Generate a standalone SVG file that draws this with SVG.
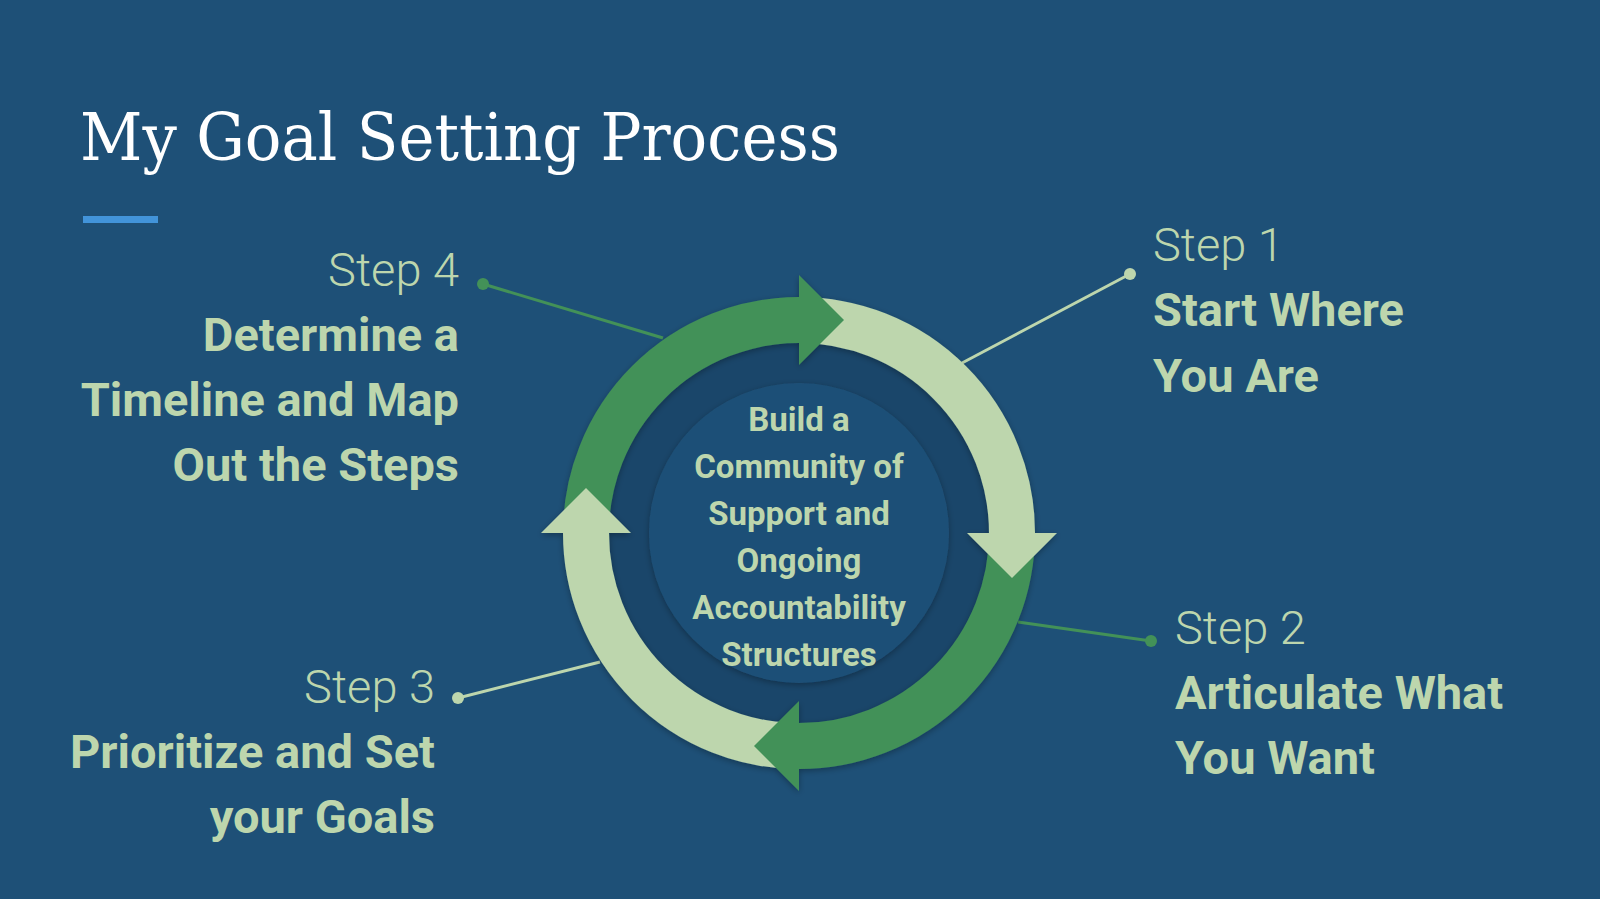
<svg xmlns="http://www.w3.org/2000/svg" width="1600" height="899" viewBox="0 0 1600 899">
  <defs>
    <filter id="shadow" x="-20%" y="-20%" width="140%" height="140%">
      <feDropShadow dx="0" dy="2" stdDeviation="3" flood-color="#000" flood-opacity="0.3"/>
    </filter>
    <style>
      .step { font-family: Roboto, "Liberation Sans", sans-serif; font-weight: 300; font-size: 47px; fill: #bdd6ad; }
      .head { font-family: Roboto, "Liberation Sans", sans-serif; font-weight: 700; font-size: 47px; fill: #bdd6ad; }
      .ctr { font-family: Roboto, "Liberation Sans", sans-serif; font-weight: 700; font-size: 33px; fill: #bdd6ad; text-anchor: middle; }
      .end { text-anchor: end; }
      .light { stroke: #bdd6ad; fill: none; }
      .dark { stroke: #439158; fill: none; }
      .arcL { stroke: #bdd6ad; stroke-width: 46; fill: none; }
      .arcD { stroke: #439158; stroke-width: 46; fill: none; }
      .headL { fill: #bdd6ad; }
      .headD { fill: #439158; }
    </style>
  </defs>
  <rect width="1600" height="899" fill="#1e5077"/>

  <g id="title">
    <text x="80" y="160" font-family="'Roboto Slab', 'DejaVu Serif', 'Liberation Serif', serif" font-size="66" fill="#ffffff" textLength="760" lengthAdjust="spacingAndGlyphs">My Goal Setting Process</text>
    <rect x="83" y="216" width="75" height="7" fill="#4294da"/>
  </g>

  <g id="connectors" stroke-width="3">
    <line class="light" x1="1130" y1="274" x2="962" y2="363"/>
    <circle cx="1130" cy="274" r="6" fill="#bdd6ad"/>
    <line class="dark" x1="1151" y1="641" x2="1018" y2="622"/>
    <circle cx="1151" cy="641" r="6" fill="#439158"/>
    <line class="light" x1="458" y1="698" x2="600" y2="662"/>
    <circle cx="458" cy="698" r="6" fill="#bdd6ad"/>
    <line class="dark" x1="483" y1="284" x2="663" y2="338"/>
    <circle cx="483" cy="284" r="6" fill="#439158"/>
  </g>

  <g id="center">
    <circle cx="799" cy="533" r="192" fill="#1a466a"/>
    <circle cx="799" cy="533" r="150" fill="#1e5077" filter="url(#shadow)"/>
    <text class="ctr" x="799" y="431">Build a</text>
    <text class="ctr" x="799" y="478">Community of</text>
    <text class="ctr" x="799" y="525">Support and</text>
    <text class="ctr" x="799" y="572">Ongoing</text>
    <text class="ctr" x="799" y="619">Accountability</text>
    <text class="ctr" x="799" y="666">Structures</text>
  </g>

  <g id="cycle" filter="url(#shadow)">
    <path class="arcD" d="M 586 533 A 213 213 0 0 1 799 320"/>
    <path class="arcL" d="M 799 320 A 213 213 0 0 1 1012 533"/>
    <path class="arcD" d="M 1012 533 A 213 213 0 0 1 799 746"/>
    <path class="arcL" d="M 799 746 A 213 213 0 0 1 586 533"/>
    <polygon class="headD" points="799,275 844,320 799,365"/>
    <polygon class="headL" points="967,533 1012,578 1057,533"/>
    <polygon class="headD" points="799,701 754,746 799,791"/>
    <polygon class="headL" points="541,533 586,488 631,533"/>
  </g>

  <g id="step1">
    <text class="step" x="1153" y="261">Step 1</text>
    <text class="head" x="1153" y="326">Start Where</text>
    <text class="head" x="1153" y="392">You Are</text>
  </g>

  <g id="step2">
    <text class="step" x="1175" y="644">Step 2</text>
    <text class="head" x="1175" y="709">Articulate What</text>
    <text class="head" x="1175" y="774">You Want</text>
  </g>

  <g id="step3">
    <text class="step end" x="435" y="703">Step 3</text>
    <text class="head end" x="435" y="768">Prioritize and Set</text>
    <text class="head end" x="435" y="833">your Goals</text>
  </g>

  <g id="step4">
    <text class="step end" x="459" y="286">Step 4</text>
    <text class="head end" x="459" y="351">Determine a</text>
    <text class="head end" x="459" y="416">Timeline and Map</text>
    <text class="head end" x="459" y="481">Out the Steps</text>
  </g>
</svg>
